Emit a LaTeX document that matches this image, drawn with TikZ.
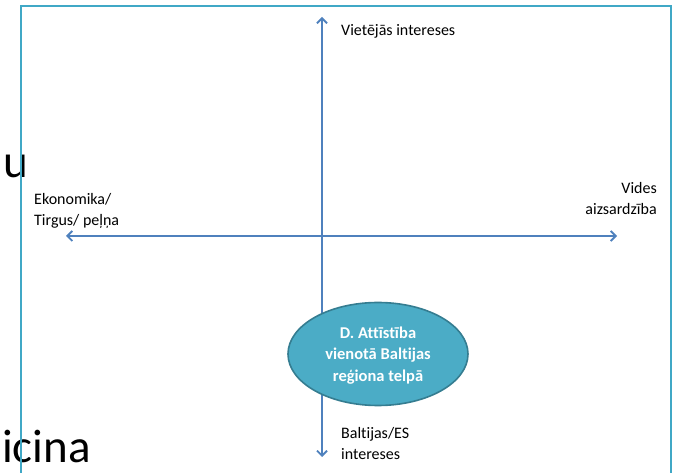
\documentclass[tikz,border=0pt]{standalone}
\usepackage{fontspec}
\setmainfont{Carlito}[Ligatures=NoCommon]
\usetikzlibrary{arrows.meta,shapes.geometric}
\definecolor{asszila}{HTML}{4F81BD}
\definecolor{ramis}{HTML}{40A8C6}
\definecolor{elipse}{HTML}{4BACC6}
\definecolor{elipsemala}{HTML}{357D91}

\begin{document}
\begin{tikzpicture}[x=1pt, y=-1pt]
            \tikzset{
                axis/.style={draw=asszila, line width=1.8pt, {Straight Barb[length=5pt,width=10pt]}-{Straight Barb[length=5pt,width=10pt]}},
                label/.style={inner sep=0pt, font=\fontsize{16}{21}\selectfont},
                cbox/.style={ellipse, fill=elipse, draw=elipsemala, line width=1.6pt, minimum width=180pt, minimum height=103pt, inner sep=0pt, text depth=-22pt, align=center, text=white, font=\fontsize{16.5}{21.5}\selectfont\bfseries},
                stray/.style={inner sep=0pt, font=\fontsize{47}{47}\selectfont}
            }
            \useasboundingbox (0, 0) rectangle (673, 473);
            \clip (0, 0) rectangle (673, 473);

            % Fona teksts:
            \node[stray, anchor=base east] (bg-u) at (28, 178) {u};
            \node[stray, anchor=base west] (bg-icina) at (2, 463) {icina};

            % Rāmis:
            \draw[draw=ramis, line width=1.8pt] (21, 6) rectangle (671, 490);

            % Asis:
            \coordinate (ax-top) at (322, 17);
            \coordinate (ax-bottom) at (322, 457);
            \coordinate (ax-left) at (66, 236);
            \coordinate (ax-right) at (617, 236);
            \draw[axis] (ax-bottom) -- (ax-top);
            \draw[axis] (ax-left) -- (ax-right);

            \node[cbox] (center) at (378, 354) {D. Attīstība\\vienotā Baltijas\\reģiona telpā};

            % Uzraksti:
            \node[label, anchor=base west] (lbl-top) at (341, 36) {Vietējās intereses};
            \node[label, anchor=base west, align=left] (lbl-left) at (34, 226) {Ekonomika/\\Tirgus/ peļņa};
            \node[label, anchor=base east, align=right] (lbl-right) at (657, 215) {Vides\\aizsardzība};
            \node[label, anchor=base west, align=left] (lbl-bottom) at (341, 460) {Baltijas/ES\\intereses};
        \end{tikzpicture}
\end{document}
